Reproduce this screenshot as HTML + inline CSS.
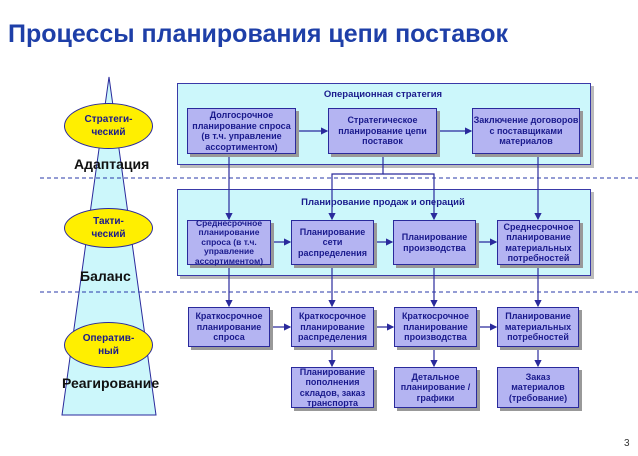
<!DOCTYPE html>
<html><head><meta charset="utf-8"><style>
body{margin:0;width:638px;height:456px;background:#fff;position:relative;overflow:hidden;font-family:"Liberation Sans",sans-serif}
.a{position:absolute}
.p{position:absolute;background:#ccf7fb;border:1px solid #3a3aa8;box-shadow:3px 3px 0 #bbb}
.b{position:absolute;background:#b4b4f2;border:1px solid #2a2a9c;box-shadow:3px 3px 0 #999;display:flex;align-items:center;justify-content:center;text-align:center;color:#1a1a8c;font-weight:bold;font-size:9px;line-height:10.5px;box-sizing:border-box}
.t{position:absolute;color:#1a1a8c;font-weight:bold;font-size:9.5px;text-align:center}
.e{position:absolute;background:#ffef00;border:1px solid #2a2a9c;border-radius:50%;display:flex;align-items:center;justify-content:center;text-align:center;color:#1a1a8c;font-weight:bold;font-size:10px;line-height:13px;box-sizing:border-box}
.l{position:absolute;font-weight:bold;font-size:14px;color:#111}
</style></head><body>
<div class="a" style="left:8px;top:20px;font-size:25px;font-weight:bold;color:#1e3fa8;white-space:nowrap">Процессы планирования цепи поставок</div>
<svg class="a" style="left:0;top:0" width="638" height="456">
<polygon points="109,77 62,415 156,415" fill="#ccf7fb" stroke="#2a2a9c" stroke-width="1"/>
<line x1="40" y1="178" x2="638" y2="178" stroke="#2a3aa8" stroke-dasharray="4,3"/>
<line x1="40" y1="292" x2="638" y2="292" stroke="#2a3aa8" stroke-dasharray="4,3"/>
</svg>
<div class="p" style="left:177px;top:83px;width:412px;height:80px"></div>
<div class="p" style="left:177px;top:189px;width:412px;height:85px"></div>
<div class="t" style="left:177px;top:89px;width:412px">Операционная стратегия</div>
<div class="t" style="left:177px;top:197px;width:412px">Планирование продаж и операций</div>
<svg class="a" style="left:0;top:0" width="638" height="456">
<defs><marker id="m" markerWidth="6" markerHeight="6" refX="5" refY="3" orient="auto"><path d="M0,0L6,3L0,6z" fill="#2a2a9c"/></marker></defs>
<g stroke="#2a2a9c" stroke-width="1.2" fill="none">
<line x1="296" y1="131" x2="327" y2="131" marker-end="url(#m)"/>
<line x1="437" y1="131" x2="471" y2="131" marker-end="url(#m)"/>
<line x1="229" y1="154" x2="229" y2="219" marker-end="url(#m)"/>
<polyline points="383,154 383,174 332,174 332,219" marker-end="url(#m)"/>
<polyline points="383,174 434,174 434,219" marker-end="url(#m)"/>
<line x1="538" y1="154" x2="538" y2="219" marker-end="url(#m)"/>
<line x1="271" y1="242" x2="290" y2="242" marker-end="url(#m)"/>
<line x1="374" y1="242" x2="392" y2="242" marker-end="url(#m)"/>
<line x1="476" y1="242" x2="496" y2="242" marker-end="url(#m)"/>
<line x1="229" y1="265" x2="229" y2="306" marker-end="url(#m)"/>
<line x1="332" y1="265" x2="332" y2="306" marker-end="url(#m)"/>
<line x1="434" y1="265" x2="434" y2="306" marker-end="url(#m)"/>
<line x1="538" y1="265" x2="538" y2="306" marker-end="url(#m)"/>
<line x1="270" y1="327" x2="290" y2="327" marker-end="url(#m)"/>
<line x1="374" y1="327" x2="393" y2="327" marker-end="url(#m)"/>
<line x1="477" y1="327" x2="496" y2="327" marker-end="url(#m)"/>
<line x1="332" y1="347" x2="332" y2="366" marker-end="url(#m)"/>
<line x1="434" y1="347" x2="434" y2="366" marker-end="url(#m)"/>
<line x1="538" y1="347" x2="538" y2="366" marker-end="url(#m)"/>
</g></svg>
<div class="e" style="left:64px;top:103px;width:89px;height:46px">Стратеги-<br>ческий</div>
<div class="e" style="left:64px;top:208px;width:89px;height:40px">Такти-<br>ческий</div>
<div class="e" style="left:64px;top:322px;width:89px;height:46px">Оператив-<br>ный</div>
<div class="l" style="left:74px;top:156px">Адаптация</div>
<div class="l" style="left:80px;top:268px">Баланс</div>
<div class="l" style="left:62px;top:375px">Реагирование</div>
<div class="b" style="left:187px;top:108px;width:109px;height:46px">Долгосрочное<br>планирование спроса<br>(в т.ч. управление<br>ассортиментом)</div>
<div class="b" style="left:328px;top:108px;width:109px;height:46px">Стратегическое<br>планирование цепи<br>поставок</div>
<div class="b" style="left:472px;top:108px;width:108px;height:46px">Заключение договоров<br>с поставщиками<br>материалов</div>
<div class="b" style="left:187px;top:220px;width:84px;height:45px;font-size:8.5px;line-height:9.5px">Среднесрочное<br>планирование<br>спроса (в т.ч.<br>управление<br>ассортиментом)</div>
<div class="b" style="left:291px;top:220px;width:83px;height:45px">Планирование<br>сети<br>распределения</div>
<div class="b" style="left:393px;top:220px;width:83px;height:45px">Планирование<br>производства</div>
<div class="b" style="left:497px;top:220px;width:83px;height:45px">Среднесрочное<br>планирование<br>материальных<br>потребностей</div>
<div class="b" style="left:188px;top:307px;width:82px;height:40px">Краткосрочное<br>планирование<br>спроса</div>
<div class="b" style="left:291px;top:307px;width:83px;height:40px">Краткосрочное<br>планирование<br>распределения</div>
<div class="b" style="left:394px;top:307px;width:83px;height:40px">Краткосрочное<br>планирование<br>производства</div>
<div class="b" style="left:497px;top:307px;width:82px;height:40px">Планирование<br>материальных<br>потребностей</div>
<div class="b" style="left:291px;top:367px;width:83px;height:41px">Планирование<br>пополнения<br>складов, заказ<br>транспорта</div>
<div class="b" style="left:394px;top:367px;width:83px;height:41px">Детальное<br>планирование /<br>графики</div>
<div class="b" style="left:497px;top:367px;width:82px;height:41px">Заказ<br>материалов<br>(требование)</div>
<div class="a" style="left:624px;top:438px;font-size:10px;color:#333">3</div>
</body></html>
